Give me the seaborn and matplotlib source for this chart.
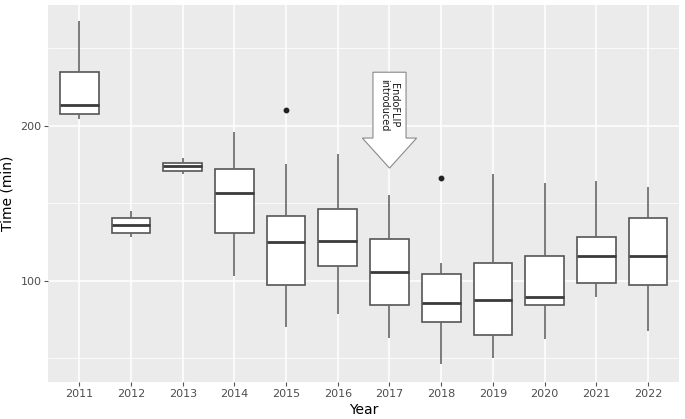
import matplotlib
matplotlib.use("Agg")
import matplotlib.pyplot as plt
import seaborn as sns
import pandas as pd
from matplotlib.patches import FancyArrow

years = ["2011", "2012", "2013", "2014", "2015", "2016", "2017", "2018", "2019", "2020", "2021", "2022"]
whisk_lo = [204.3, 128.4, 168.6, 102.8, 70.1, 78.5, 63.2, 46.3, 50.1, 62.2, 89.7, 67.6]
q1 = [207.7, 130.8, 170.8, 130.8, 97.2, 109.5, 84.3, 73.5, 64.7, 84.3, 98.7, 97.2]
median = [213.3, 135.7, 173.8, 156.6, 124.9, 125.8, 105.4, 85.8, 87.5, 89.7, 115.9, 115.9]
q3 = [234.8, 140.5, 176.3, 171.8, 141.9, 146.0, 126.9, 104.5, 111.6, 116.0, 127.9, 140.5]
whisk_hi = [267.7, 145.2, 178.9, 195.9, 175.3, 182.1, 155.1, 111.6, 169.2, 163.0, 164.1, 160.2]
outliers = {"2015": [210.5], "2018": [166.3]}

rows = []
for i, yr in enumerate(years):
    if yr in outliers:
        vals = [whisk_lo[i], q1[i], q1[i], median[i], median[i], median[i], q3[i], whisk_hi[i]] + outliers[yr]
    else:
        vals = [whisk_lo[i], q1[i], q1[i], median[i], median[i], median[i], q3[i], q3[i], whisk_hi[i]]
    for v in vals:
        rows.append({"Year": yr, "Time": v})
df = pd.DataFrame(rows)

sns.set_theme(style="darkgrid")
plt.rcParams["font.family"] = ["DejaVu Sans"]

fig = plt.figure(figsize=(6.85, 4.19), dpi=100)
ax = fig.add_axes([48.3 / 685, 1 - 381.7 / 419, (679 - 48.3) / 685, (381.7 - 5) / 419])
ax.set_facecolor("#EBEBEB")

sns.boxplot(data=df, x="Year", y="Time", order=years, color="white", linecolor="#555555",
            linewidth=1.2, width=0.75, showcaps=False, ax=ax,
            boxprops={"edgecolor": "#555555", "linewidth": 1.2},
            medianprops={"linewidth": 2.0, "color": "#3a3a3a"},
            whiskerprops={"linewidth": 1.2, "color": "#666666"},
            flierprops={"marker": "o", "markersize": 3.2, "markerfacecolor": "#222222",
                        "markeredgecolor": "#222222"})

ax.set_xlim(-0.6, len(years) - 0.4)
ax.set_ylim(34.8, 278)
ax.set_yticks([100, 200])
ax.set_yticks([50, 150, 250], minor=True)
ax.grid(True, which="major", color="white", linewidth=1.1)
ax.grid(True, which="minor", axis="y", color="white", linewidth=0.55)
ax.set_axisbelow(True)
for s in ax.spines.values():
    s.set_visible(False)
ax.tick_params(axis="both", which="major", length=3, width=0.8, color="#555555",
               labelsize=8, labelcolor="#4D4D4D", pad=2, bottom=True, left=True)
ax.tick_params(axis="y", which="minor", length=0, left=False)
ax.set_xlabel("Year", fontsize=10, color="black", labelpad=3)
ax.set_ylabel("Time (min)", fontsize=10, color="black", labelpad=4)

# EndoFLIP arrow annotation
xi = years.index("2017")
arrow = FancyArrow(xi, 234.6, 0, -(234.6 - 172.7), width=0.64, head_width=1.05,
                   head_length=192.1 - 172.7, length_includes_head=True,
                   facecolor="white", edgecolor="#8a8a8a", linewidth=0.8, zorder=5)
ax.add_patch(arrow)
ax.text(xi, 213.5, "EndoFLIP\nintroduced", rotation=270, ha="center", va="center",
        fontsize=7, color="#1a1a1a", linespacing=1.0, zorder=6)

fig.savefig("out.png", dpi=100)
